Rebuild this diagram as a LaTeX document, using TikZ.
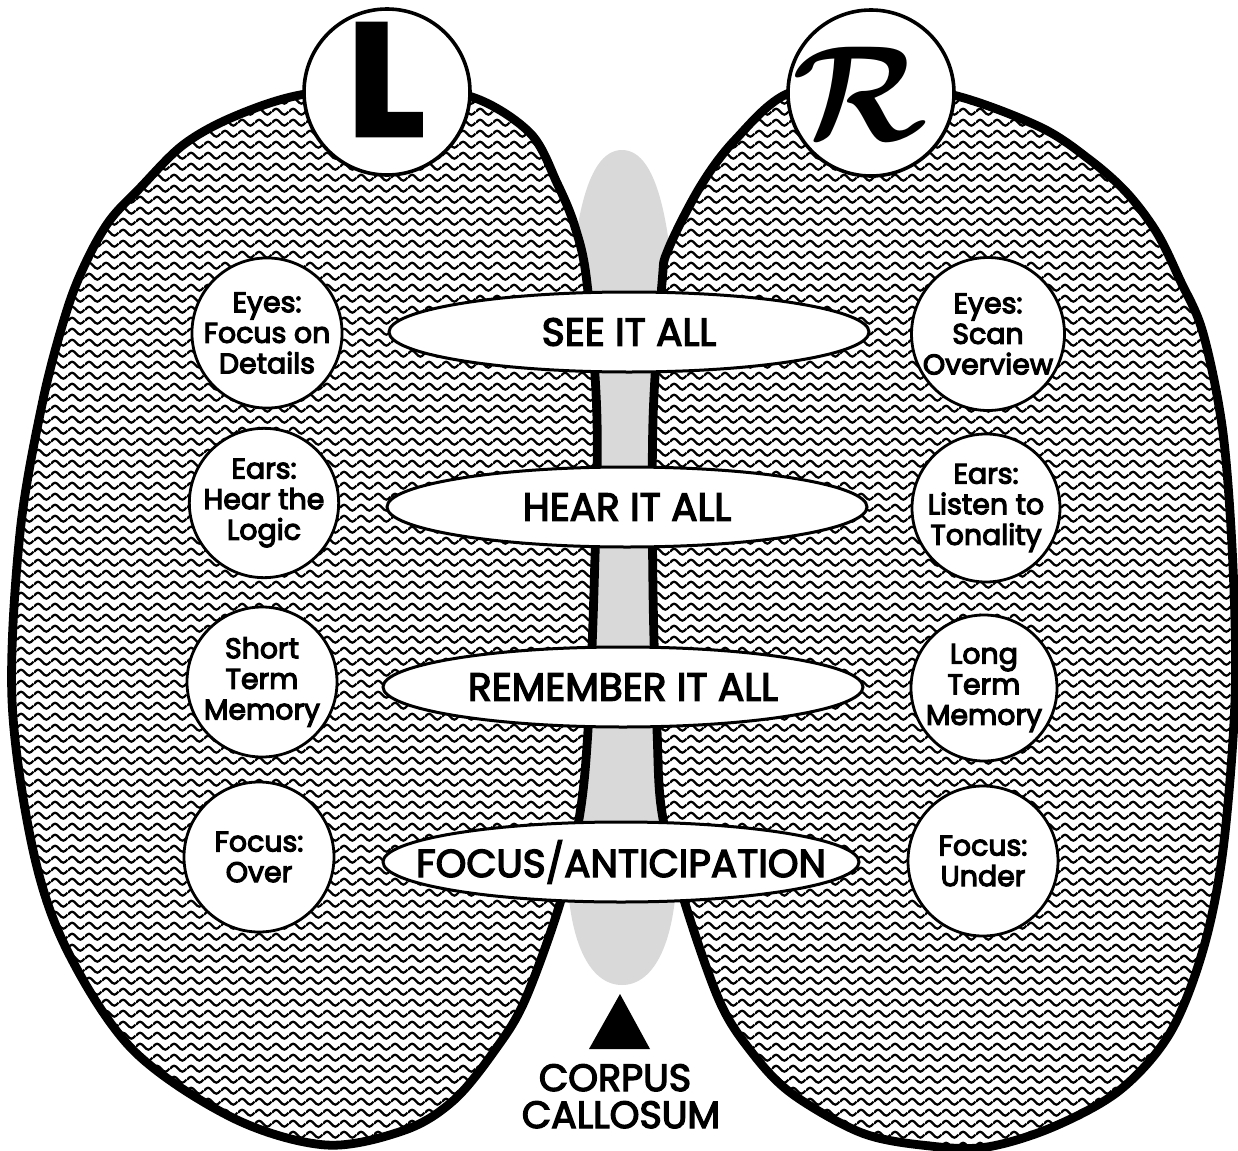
\documentclass[tikz,border=0pt]{standalone}
\usepackage{fontspec}
\usepackage{graphicx}
\usetikzlibrary{shapes.geometric,patterns}
\newfontfamily\labelfont{Poppins}[FakeBold=3.5]
\newfontfamily\circfont{Poppins}[FakeBold=4]
\newfontfamily\heavyfont{Poppins}[BoldFeatures={FakeBold=3}]
\pgfdeclarepatternformonly{wavylines}{\pgfpoint{0pt}{0pt}}{\pgfpoint{8.6pt}{5.4pt}}{\pgfpoint{8.6pt}{5.4pt}}{%
  \pgfsetlinewidth{1.15pt}%
  \pgfpathmoveto{\pgfpoint{0pt}{2.7pt}}%
  \pgfpathcurveto{\pgfpoint{0.75pt}{3.55pt}}{\pgfpoint{1.45pt}{4.2pt}}{\pgfpoint{2.15pt}{4.2pt}}%
  \pgfpathcurveto{\pgfpoint{2.85pt}{4.2pt}}{\pgfpoint{3.55pt}{3.55pt}}{\pgfpoint{4.3pt}{2.7pt}}%
  \pgfpathcurveto{\pgfpoint{5.05pt}{1.85pt}}{\pgfpoint{5.75pt}{1.2pt}}{\pgfpoint{6.45pt}{1.2pt}}%
  \pgfpathcurveto{\pgfpoint{7.15pt}{1.2pt}}{\pgfpoint{7.85pt}{1.85pt}}{\pgfpoint{8.6pt}{2.7pt}}%
  \pgfusepath{stroke}}
\tikzset{
  lobe/.style={line width=4.4pt, draw=black, preaction={fill=white}, pattern=wavylines},
  headcircle/.style={circle, draw, fill=white, line width=1.8pt, minimum size=83pt, inner sep=0pt},
  bar/.style={ellipse, draw, fill=white, line width=1.5pt, minimum width=240pt, minimum height=40pt, inner sep=0pt},
  bartext/.style={font=\labelfont\fontsize{19.5}{22}\selectfont, inner sep=0pt},
  roundbox/.style={circle, draw, fill=white, line width=1.4pt, minimum size=74pt, inner sep=0pt, align=center,
     font=\circfont\fontsize{14.2}{15.3}\selectfont},
  caption/.style={anchor=base, inner sep=0pt, font=\labelfont\fontsize{19}{19}\selectfont}
}
\begin{document}
\begin{tikzpicture}[x=0.5pt,y=-0.5pt]
\useasboundingbox (0,0) rectangle (1238,1151);
% corpus callosum
\fill[black!15] (567,400) .. controls (567,230) and (585,150) .. (622,150)
   .. controls (659,150) and (677,230) .. (677,400) -- (677,860)
   .. controls (677,940) and (655,985) .. (622,985)
   .. controls (589,985) and (567,940) .. (567,860) -- cycle;
% left hemisphere
\draw[lobe] plot[smooth cycle, tension=0.55] coordinates {
 (300,95) (390,87) (472,97) (530,133) (557,183) (575,227) (587,283) (597,420)
 (594,590) (588,730) (580,813) (561,900) (525,1000) (495,1050) (454,1100)
 (405,1130) (326,1145) (233,1118) (133,1050) (67,950) (33,850) (12,700)
 (20,533) (43,400) (67,310) (87,260) (110,220) (140,188) (183,145) (233,117)};
% right hemisphere
\draw[lobe] plot[smooth cycle, tension=0.55] coordinates {
 (789,93) (870,86) (953,95) (1040,127) (1090,160) (1127,193) (1157,233)
 (1180,280) (1203,333) (1223,433) (1233,567) (1235,700) (1223,850) (1203,950)
 (1170,1033) (1120,1090) (1053,1127) (987,1147) (930,1146) (862,1133)
 (791,1093) (750,1050) (719,1000) (684,900) (662,813) (657,730) (653,590)
 (653,420) (662,283) (668,250) (700,187) (735,140)};
% L / R heads
\node[headcircle] (L) at (387,92) {};
\node[anchor=base, inner sep=0pt] (Ltext) at (386,135) {\heavyfont\bfseries\fontsize{79}{79}\selectfont L};
\node[headcircle] (R) at (871,93) {};
\node (Rtext) at (860,94) {\scalebox{6.8}{\boldmath$\mathcal{R}$}};
% central bars
\node[bar] (see) at (629,332) {};
\node[bartext] at (see.center) {SEE IT ALL};
\node[bar] (hear) at (627,507) {};
\node[bartext] at (hear.center) {HEAR IT ALL};
\node[bar] (rem) at (623,687) {};
\node[bartext] at (rem.center) {REMEMBER IT ALL};
\node[bar, minimum width=238pt] (foc) at (621,862) {};
\node[bartext] at (foc.center) {FOCUS/ANTICIPATION};
% left circles
\node[roundbox] (l1) at (267,333) {Eyes:\\Focus on\\Details};
\node[roundbox] (l2) at (264,503) {Ears:\\Hear the\\Logic};
\node[roundbox, minimum size=75pt] (l3) at (262,682) {Short\\Term\\Memory};
\node[roundbox, minimum size=75pt] (l4) at (259,857) {Focus:\\Over};
% right circles
\node[roundbox] (r1) at (988,334) {Eyes:\\Scan\\Overview};
\node[roundbox] (r2) at (986,508) {Ears:\\Listen to\\Tonality};
\node[roundbox, minimum size=73pt] (r3) at (984,688) {Long\\Term\\Memory};
\node[roundbox, minimum size=75pt] (r4) at (983,861) {Focus:\\Under};
% corpus callosum label
\coordinate (tip) at (620,994);
\fill (tip) -- (589,1049) -- (650,1049) -- cycle;
\node[caption] (cc1) at (615,1091) {CORPUS};
\node[caption] (cc2) at (621,1128) {CALLOSUM};
\end{tikzpicture}
\end{document}
